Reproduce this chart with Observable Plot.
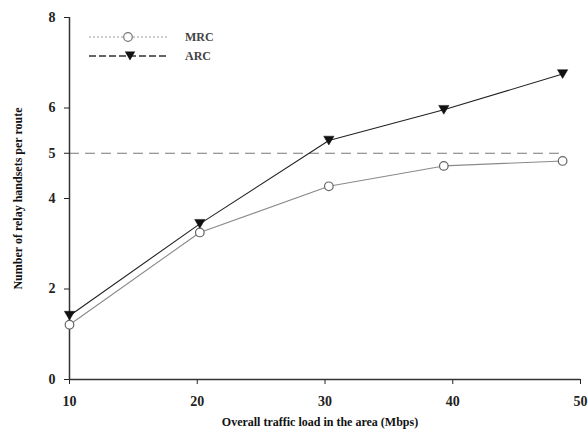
<!DOCTYPE html>
<html>
<head>
<meta charset="utf-8">
<script src="https://cdn.jsdelivr.net/npm/d3@7"></script>
<script src="https://cdn.jsdelivr.net/npm/@observablehq/plot@0.6"></script>
<style>
  html, body { margin: 0; padding: 0; background: #fff; }
  #wrap { position: relative; width: 588px; height: 434px; }
  #legend { position: absolute; left: 0; top: 0; }
</style>
</head>
<body>
<div id="wrap"></div>
<script>
// ---- data ----
const xLoad = [10, 20.2, 30.3, 39.3, 48.6];          // overall traffic load (Mbps)
const mrcValues = [1.21, 3.25, 4.27, 4.72, 4.83];     // MRC
const arcValues = [1.41, 3.44, 5.28, 5.96, 6.75];     // ARC
const refLevel = 5;                                   // dashed reference level
const refSpan = [10, 48.6];
const xTicks = [10, 20, 30, 40, 50];
const yTicks = [0, 2, 4, 5, 6, 8];
const seriesNames = ["MRC", "ARC"];
const xLabel = "Overall traffic load in the area (Mbps)";
const yLabel = "Number of relay handsets per route";

const mrc = xLoad.map((x, i) => ({x, y: mrcValues[i]}));
const arc = xLoad.map((x, i) => ({x, y: arcValues[i]}));
const ref = refSpan.map(x => ({x, y: refLevel}));

const triangleDown = {
  draw(context, size) {
    const w = Math.sqrt(size / Math.PI) * 1.15;
    const h = w * 0.85;
    context.moveTo(-w, -h);
    context.lineTo(w, -h);
    context.lineTo(0, h);
    context.closePath();
  }
};

const font = "'Liberation Serif', 'Times New Roman', serif";

const chart = Plot.plot({
  width: 588,
  height: 434,
  marginLeft: 69,
  marginRight: 8,
  marginTop: 17,
  marginBottom: 55,
  style: {fontFamily: font, fontSize: "14px", fontWeight: "bold", color: "#222", background: "#fff"},
  x: {domain: [10, 50], ticks: xTicks, tickSize: 5, tickPadding: 12, label: null},
  y: {domain: [0, 8], ticks: yTicks, tickSize: 5, tickPadding: 9, label: null},
  marks: [
    Plot.line(ref, {x: "x", y: "y", stroke: "#777", strokeWidth: 1, strokeDasharray: "9,7"}),
    Plot.line(mrc, {x: "x", y: "y", stroke: "#8a8a8a", strokeWidth: 1.1}),
    Plot.line(arc, {x: "x", y: "y", stroke: "#222", strokeWidth: 1.1}),
    Plot.ruleX([10], {stroke: "#333", strokeWidth: 1.5}),
    Plot.ruleY([0], {stroke: "#333", strokeWidth: 1.5}),
    Plot.dot(mrc, {x: "x", y: "y", r: 4.3, fill: "#fff", stroke: "#666", strokeWidth: 1.2}),
    Plot.dot(arc, {x: "x", y: "y", r: 4.5, symbol: triangleDown, fill: "#111", stroke: "#111", strokeWidth: 0.5}),
    Plot.text([xLabel], {frameAnchor: "bottom", textAnchor: "middle", lineAnchor: "middle", dx: -5, dy: 43, fontSize: 12, fontWeight: "bold", fontFamily: font, fill: "#111"}),
    Plot.text([yLabel], {frameAnchor: "left", textAnchor: "middle", lineAnchor: "middle", dx: -51, rotate: -90, fontSize: 12, fontWeight: "bold", fontFamily: font, fill: "#111"})
  ]
});

const wrap = document.getElementById("wrap");
wrap.appendChild(chart);

// ---- legend (inside plot area, top-left) ----
const leg = d3.select(wrap).append("svg")
  .attr("id", "legend").attr("width", 240).attr("height", 70)
  .style("font-family", font);
const rows = [
  {name: seriesNames[0], y: 37, dash: "2,2", stroke: "#999", sym: "circle"},
  {name: seriesNames[1], y: 56, dash: "7,3", stroke: "#333", sym: "tri"}
];
rows.forEach(r => {
  leg.append("line").attr("x1", 89).attr("x2", 167).attr("y1", r.y).attr("y2", r.y)
    .attr("stroke", r.stroke).attr("stroke-width", r.sym === "tri" ? 1.6 : 1.2).attr("stroke-dasharray", r.dash);
  if (r.sym === "circle") {
    leg.append("circle").attr("cx", 128).attr("cy", r.y).attr("r", 4.3)
      .attr("fill", "#fff").attr("stroke", "#777").attr("stroke-width", 1.2);
  } else {
    leg.append("path").attr("transform", `translate(130,${r.y})`)
      .attr("d", d3.symbol(triangleDown, Math.PI * 4.5 * 4.5)()).attr("fill", "#111");
  }
  leg.append("text").attr("x", 185).attr("y", r.y).attr("dy", "0.35em")
    .attr("font-size", 12).attr("font-weight", "bold").attr("fill", "#444").text(r.name);
});
</script>
</body>
</html>
